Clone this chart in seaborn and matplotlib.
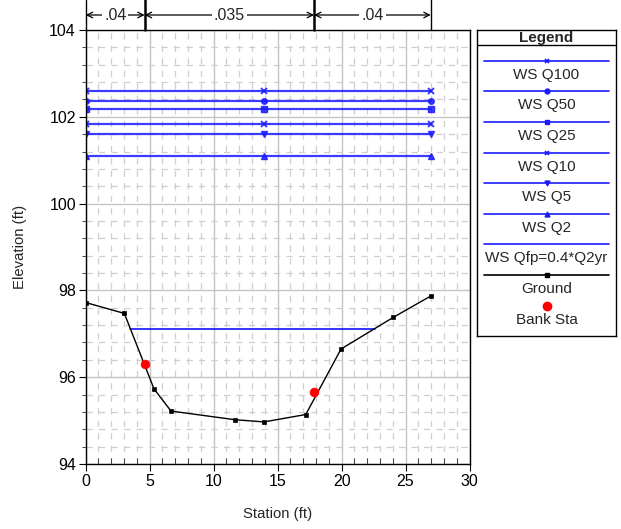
import numpy as np
import pandas as pd
import matplotlib
matplotlib.use("Agg")
import matplotlib.pyplot as plt
from matplotlib.ticker import MultipleLocator
from matplotlib.lines import Line2D
import seaborn as sns

# ---- data ----
ground_sta = [0.0, 3.02, 5.34, 6.67, 11.67, 13.94, 17.2, 19.96, 24.05, 26.97]
ground_elev = [97.72, 97.47, 95.73, 95.22, 95.02, 94.97, 95.14, 96.65, 97.38, 97.87]
bank_sta = [4.61, 17.85]
bank_elev = [96.31, 95.66]

ws_names = ["WS Q100", "WS Q50", "WS Q25", "WS Q10", "WS Q5", "WS Q2"]
ws_elev = [102.60, 102.37, 102.18, 101.84, 101.60, 101.10]
ws_markers = ["x", "o", "s", "x", "v", "^"]
ws_sta = [0.0, 13.94, 26.97]
qfp_name = "WS Qfp=0.4*Q2yr"
qfp_elev = 97.12
qfp_sta = [3.5, 22.6]

n_bounds = [0.0, 4.61, 17.85, 26.97]
n_values = [".04", ".035", ".04"]

# ---- style ----
sns.set_style("white")
plt.rcParams["font.family"] = ["Liberation Sans", "DejaVu Sans"]
BLUE = "#1a1aff"

fig = plt.figure(figsize=(6.21, 5.29), dpi=100)
W, H = 621, 529
ax = fig.add_axes([85.7 / W, (H - 464) / H, (469.5 - 85.7) / W, (464 - 30) / H])

# grid
ax.set_xlim(0, 30)
ax.set_ylim(94, 104)
ax.xaxis.set_major_locator(MultipleLocator(5))
ax.xaxis.set_minor_locator(MultipleLocator(1))
ax.yaxis.set_major_locator(MultipleLocator(2))
ax.yaxis.set_minor_locator(MultipleLocator(0.4))
ax.grid(which="major", color="#c4c4c4", lw=1.0, zorder=0)
ax.grid(which="minor", color="#cfcfcf", lw=0.9, ls=(0, (5, 5)), zorder=0)
ax.set_axisbelow(True)

# water surfaces
for name, elev, mk in zip(ws_names, ws_elev, ws_markers):
    df = pd.DataFrame({"sta": ws_sta, "elev": [elev] * len(ws_sta)})
    sns.lineplot(data=df, x="sta", y="elev", ax=ax, color=BLUE, lw=1.6,
                 marker=mk, markersize=4, markeredgewidth=1.4 if mk == "x" else 1,
                 markeredgecolor=BLUE, alpha=0.85)
qdf = pd.DataFrame({"sta": qfp_sta, "elev": [qfp_elev] * len(qfp_sta)})
sns.lineplot(data=qdf, x="sta", y="elev", ax=ax, color="blue", lw=1.1)

# ground
gdf = pd.DataFrame({"sta": ground_sta, "elev": ground_elev})
sns.lineplot(data=gdf, x="sta", y="elev", ax=ax, color="black", lw=1.0,
             marker="s", markersize=3.2, markeredgewidth=0.5,
             markeredgecolor="black", zorder=4)
bdf = pd.DataFrame({"sta": bank_sta, "elev": bank_elev})
sns.scatterplot(data=bdf, x="sta", y="elev", ax=ax, color="red", s=40,
                edgecolor="red", zorder=5)

for s in ax.spines.values():
    s.set_color("black")
    s.set_linewidth(1.0)
ax.tick_params(axis="both", which="major", direction="out", length=5,
               labelsize=11.5, colors="black", bottom=True, left=True, pad=2)
ax.tick_params(axis="y", which="minor", direction="out", length=3, left=True)
ax.tick_params(axis="x", which="minor", direction="in", length=4, bottom=True)
ax.set_xlabel("Station (ft)", fontsize=10.7, labelpad=13)
ax.set_ylabel("Elevation (ft)", fontsize=10.7, labelpad=16)

# n-value annotations above plot
ytop = 1.0 + 15 / 434
for xb in n_bounds:
    lw = 1.8 if xb in n_bounds[1:-1] else 1.0
    ax.plot([xb, xb], [1.0, 1.0 + 30 / 434], color="black", lw=lw,
            transform=ax.get_xaxis_transform(), clip_on=False)
for i, nv in enumerate(n_values):
    a, b = n_bounds[i], n_bounds[i + 1]
    ax.annotate("", xy=(a, ytop), xytext=(b, ytop), xycoords=ax.get_xaxis_transform(),
                textcoords=ax.get_xaxis_transform(),
                arrowprops=dict(arrowstyle="<->", color="black", lw=0.9,
                                shrinkA=0, shrinkB=0))
    ax.text((a + b) / 2, ytop, nv, transform=ax.get_xaxis_transform(),
            ha="center", va="center", fontsize=11.5,
            bbox=dict(facecolor="white", edgecolor="none", pad=1.5))

# ---- legend panel ----
lax = fig.add_axes([477 / W, (H - 336) / H, (616 - 477) / W, (336 - 30) / H])
lax.set_xlim(0, 1)
lax.set_ylim(306, 0)
lax.set_xticks([])
lax.set_yticks([])
for s in lax.spines.values():
    s.set_color("black")
    s.set_linewidth(1.0)
lax.axhline(15, color="black", lw=1.0)
lax.text(0.5, 7.5, "Legend", ha="center", va="center", fontsize=11, fontweight="bold")

labels = ws_names + [qfp_name, "Ground"]
markers = ws_markers + [None, "s"]
colors = [BLUE] * 7 + ["black"]
for i, (lab, mk, c) in enumerate(zip(labels, markers, colors)):
    y = 30.7 + i * 30.6
    lax.add_line(Line2D([0.05, 0.95], [y, y], color=c, lw=1.2))
    if mk is not None:
        lax.add_line(Line2D([0.5], [y], color=c, marker=mk, markersize=3.5, lw=0,
                            markeredgewidth=1.2 if mk == "x" else 1))
    lax.text(0.5, y + 14, lab, ha="center", va="center", fontsize=11)
y = 30.7 + 8 * 30.6
lax.add_line(Line2D([0.5], [y], color="red", marker="o", markersize=6, lw=0))
lax.text(0.5, y + 14, "Bank Sta", ha="center", va="center", fontsize=11)

fig.savefig("out.png", dpi=100)
